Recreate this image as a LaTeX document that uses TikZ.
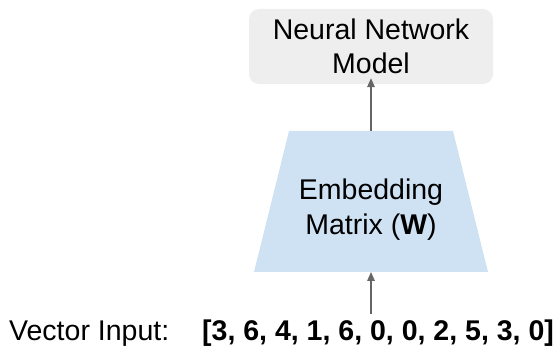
\documentclass[tikz,border=0pt]{standalone}
\usepackage{fontspec}
\setmainfont{Liberation Sans}
\usetikzlibrary{arrows.meta}
\definecolor{boxgray}{HTML}{EEEEEE}
\definecolor{embblue}{HTML}{CFE2F3}
\definecolor{arrowgray}{HTML}{666666}
\tikzset{
  modelbox/.style={draw=none, fill=boxgray, rounded corners=10pt,
    minimum width=244pt, minimum height=75pt, inner sep=0pt,
    align=center, font=\fontsize{28.5}{34}\selectfont},
  embfill/.style={draw=none, fill=embblue},
  embtext/.style={inner sep=0pt, align=center,
    font=\fontsize{28.5}{35}\selectfont},
  flow/.style={draw=arrowgray, line width=1.5pt,
    -{Triangle[width=7.5pt,length=9pt]}},
  plaintext/.style={inner sep=0pt, font=\fontsize{28.5}{34}\selectfont}
}
\begin{document}
\begin{tikzpicture}[x=1pt,y=-1pt]
  \useasboundingbox (0,0) rectangle (557,347);
  % model box
  \node[modelbox] (model) at (371,46.5) {Neural Network\\Model};
  % embedding trapezium: narrow top, wide bottom
  \coordinate (embtop) at (371,131);
  \coordinate (embbot) at (371,272);
  \fill[embfill] (289,131) -- (453,131) -- (488,272) -- (254,272) -- cycle;
  \node[embtext] (emb) at (371,210) {Embedding\\Matrix (\textbf{W})};
  % input vector
  \node[plaintext, anchor=base west] (label) at (9,341) {Vector Input:};
  \node[plaintext, anchor=base west] (vec) at (202,341) {\textbf{[3, 6, 4, 1, 6, 0, 0, 2, 5, 3, 0]}};
  \coordinate (in) at (371,314);
  % connectors
  \draw[flow] (embtop) -- ([yshift=6pt]model.south);
  \draw[flow] (in) -- (embbot);
\end{tikzpicture}
\end{document}
